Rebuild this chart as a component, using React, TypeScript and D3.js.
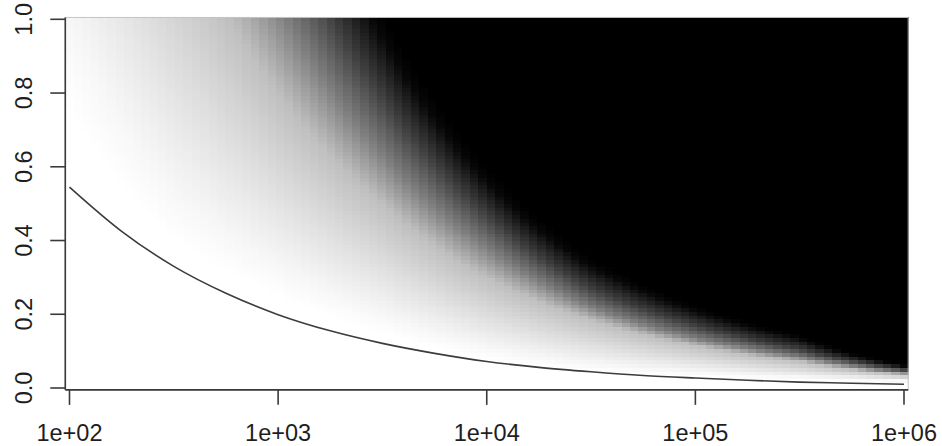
import React, { useRef, useEffect } from "react";
import * as d3 from "d3";

const logN = [2, 2.5, 3, 3.5, 4, 4.5, 5, 5.5, 6];

// the drawn curve, read every quarter decade
const curveLogN = [2, 2.25, 2.5, 2.75, 3, 3.25, 3.5, 3.75, 4, 4.25, 4.5, 4.75, 5, 5.25, 5.5, 5.75, 6];
const curveY = [0.545, 0.425, 0.33, 0.257, 0.199, 0.155, 0.121, 0.094, 0.072, 0.056, 0.044, 0.034, 0.027, 0.021, 0.016, 0.013, 0.01];

// gray shade (0 = white, 1 = black) and the y at which each shade is reached, per logN
const grayLevels = [0, 0.03, 0.25, 0.5, 0.75, 0.97, 1];
const yShade0 = [0.75, 0.4, 0.25, 0.15, 0.08, 0.047, 0.032, 0.021, 0.014];
const yShade03 = [0.98, 0.53, 0.33, 0.2, 0.11, 0.065, 0.045, 0.03, 0.02];
const yShade25 = [2.2, 1.3, 0.8, 0.5, 0.3, 0.185, 0.115, 0.072, 0.036];
const yShade50 = [2.9, 1.7, 1.04, 0.63, 0.38, 0.22, 0.135, 0.085, 0.043];
const yShade75 = [3.6, 2.15, 1.3, 0.79, 0.47, 0.27, 0.17, 0.105, 0.051];
const yShade97 = [4.25, 2.55, 1.55, 0.95, 0.56, 0.33, 0.21, 0.135, 0.06];
const yShade100 = [4.6, 2.75, 1.67, 1.02, 0.6, 0.355, 0.225, 0.145, 0.065];

const xTicks = [1e2, 1e3, 1e4, 1e5, 1e6];
const xTickLabels = ["1e+02", "1e+03", "1e+04", "1e+05", "1e+06"];
const yTicks = [0, 0.2, 0.4, 0.6, 0.8, 1];
const yTickLabels = ["0.0", "0.2", "0.4", "0.6", "0.8", "1.0"];

const nCols = 100;
const nRows = 100;

export default function App() {
  const svgRef = useRef<SVGSVGElement>(null);

  useEffect(() => {
    const svg = d3.select(svgRef.current);
    svg.selectAll("*").remove();

    const x = d3.scaleLog().domain([1e2, 1e6]).range([69.5, 904]);
    const y = d3.scaleLinear().domain([0, 1]).range([388, 19.3]);

    const contours = [yShade0, yShade03, yShade25, yShade50, yShade75, yShade97, yShade100].map((arr) =>
      d3.scaleLinear().domain(logN).range(arr.map((v) => Math.log10(v)))
    );

    // image cells
    const dx = 4 / (nCols - 1);
    const dy = 1 / (nRows - 1);
    const cells: { x0: number; x1: number; y0: number; y1: number; fill: string }[] = [];
    for (let i = 0; i < nCols; i++) {
      const c = 2 + i * dx;
      const levels = contours.map((s) => Math.pow(10, s(c)));
      const shade = d3.scaleLinear().domain(levels).range(grayLevels).clamp(true);
      for (let j = 0; j < nRows; j++) {
        const yv = j * dy;
        const v = Math.round(255 * (1 - shade(yv)));
        cells.push({
          x0: x(Math.pow(10, c - dx / 2)),
          x1: x(Math.pow(10, c + dx / 2)),
          y0: y(yv + dy / 2),
          y1: y(yv - dy / 2),
          fill: d3.rgb(v, v, v).formatHex(),
        });
      }
    }

    svg
      .append("g")
      .attr("shape-rendering", "crispEdges")
      .selectAll("rect")
      .data(cells)
      .enter()
      .append("rect")
      .attr("x", (d) => d.x0)
      .attr("y", (d) => d.y0)
      .attr("width", (d) => d.x1 - d.x0 + 0.3)
      .attr("height", (d) => d.y1 - d.y0 + 0.3)
      .attr("fill", (d) => d.fill);

    const left = x(Math.pow(10, 2 - dx / 2));
    const right = x(Math.pow(10, 6 + dx / 2));
    const top = y(1 + dy / 2);
    const bottom = y(-dy / 2);

    // faint image edge
    svg
      .append("rect")
      .attr("x", left)
      .attr("y", top)
      .attr("width", right - left)
      .attr("height", bottom - top)
      .attr("fill", "none")
      .attr("stroke", "#c4c4c4")
      .attr("stroke-width", 1);

    // curve
    const line = d3
      .line<number>()
      .x((d, i) => x(Math.pow(10, curveLogN[i])))
      .y((d) => y(d))
      .curve(d3.curveMonotoneX);

    svg
      .append("path")
      .datum(curveY)
      .attr("d", line)
      .attr("fill", "none")
      .attr("stroke", "#3c3c3c")
      .attr("stroke-width", 1.6);

    // axes
    const axisColor = "#3a3a3a";
    svg
      .append("line")
      .attr("x1", left)
      .attr("x2", right)
      .attr("y1", bottom)
      .attr("y2", bottom)
      .attr("stroke", axisColor)
      .attr("stroke-width", 1.6);
    svg
      .append("line")
      .attr("x1", left)
      .attr("x2", left)
      .attr("y1", top)
      .attr("y2", bottom)
      .attr("stroke", axisColor)
      .attr("stroke-width", 1.6);

    svg
      .selectAll(".xtick")
      .data(xTicks)
      .enter()
      .append("line")
      .attr("x1", (d) => x(d))
      .attr("x2", (d) => x(d))
      .attr("y1", bottom)
      .attr("y2", bottom + 15)
      .attr("stroke", axisColor)
      .attr("stroke-width", 1.6);

    svg
      .selectAll(".xlab")
      .data(xTicks)
      .enter()
      .append("text")
      .text((d, i) => xTickLabels[i])
      .attr("x", (d) => x(d))
      .attr("y", 441)
      .attr("text-anchor", "middle")
      .attr("font-family", "'Liberation Sans', Arial, sans-serif")
      .attr("font-size", 23.5)
      .attr("fill", "#1e1e1e");

    svg
      .selectAll(".ytick")
      .data(yTicks)
      .enter()
      .append("line")
      .attr("x1", left - 15)
      .attr("x2", left)
      .attr("y1", (d) => y(d))
      .attr("y2", (d) => y(d))
      .attr("stroke", axisColor)
      .attr("stroke-width", 1.6);

    svg
      .selectAll(".ylab")
      .data(yTicks)
      .enter()
      .append("text")
      .text((d, i) => yTickLabels[i])
      .attr("transform", (d) => `translate(31.5,${y(d)}) rotate(-90)`)
      .attr("text-anchor", "middle")
      .attr("font-family", "'Liberation Sans', Arial, sans-serif")
      .attr("font-size", 23.5)
      .attr("fill", "#1e1e1e");
  }, []);

  return (
    <svg
      ref={svgRef}
      width={942}
      height={446}
      style={{ position: "absolute", left: 0, top: 0, background: "#fff" }}
    />
  );
}
